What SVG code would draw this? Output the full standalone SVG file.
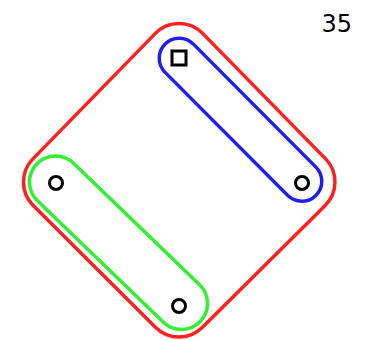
<svg xmlns="http://www.w3.org/2000/svg" width="370" height="340" viewBox="0 0 370 340">
<style>
.hull{fill:none;stroke-width:3.5;stroke-linejoin:round}
.mk{fill:none;stroke:#000;stroke-width:3}
.lbl{font-family:"DejaVu Sans",sans-serif;font-size:24px;fill:#000}
</style>
<rect width="370" height="340" fill="#fff"/>
<g id="connectors">
<path id="red" class="hull" stroke="#ff2020" d="M 155.4 33.4 A 33 33 0 0 1 202.6 33.4 L 325.6 158.9 A 33 33 0 0 1 325.2 205.4 L 202.2 327.4 A 33 33 0 0 1 155.7 327.4 L 33.2 205.4 A 33 33 0 0 1 32.9 158.9 Z"/>
<path id="blue" class="hull" stroke="#2020ee" d="M 193.17 43.89 L 316.17 167.39 A 20 20 0 0 1 287.83 195.61 L 164.83 72.11 A 20 20 0 0 1 193.17 43.89 Z"/>
<path id="green" class="hull" stroke="#33ee33" d="M 73.55 163.28 L 199.55 284.78 A 26 26 0 0 1 163.45 322.22 L 37.45 200.72 A 26 26 0 0 1 73.55 163.28 Z"/>
</g>
<g id="n1"><rect class="mk" x="172" y="51" width="14" height="14"/></g>
<g id="n2"><circle class="mk" cx="302" cy="183" r="6.5"/></g>
<g id="n3"><circle class="mk" cx="56" cy="183" r="6.5"/></g>
<g id="n4"><circle class="mk" cx="179" cy="306" r="6.5"/></g>
<g id="label"><text class="lbl" x="352" y="32" text-anchor="end">35</text></g>
</svg>
